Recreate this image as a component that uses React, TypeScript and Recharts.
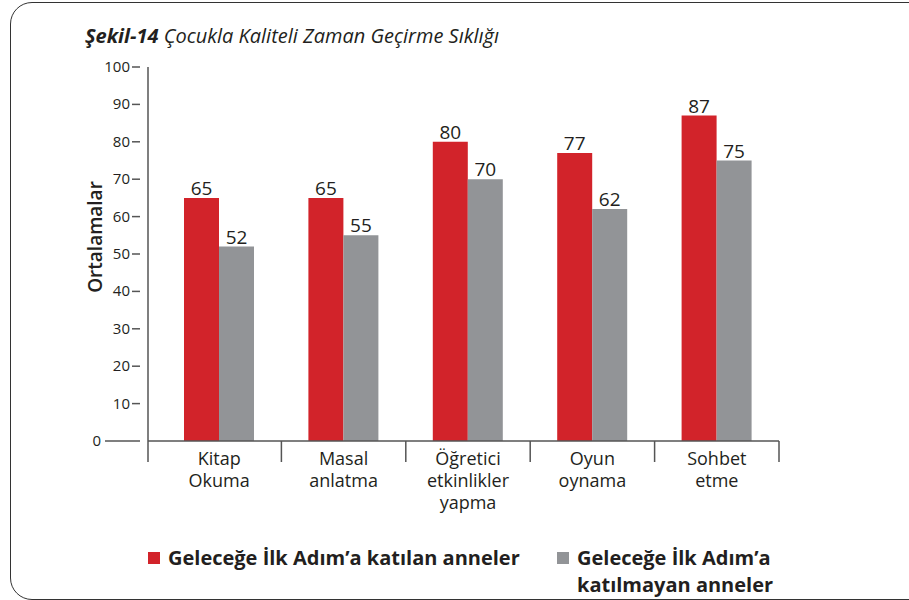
import { BarChart, Bar, XAxis, YAxis, LabelList } from 'recharts';

const categories = ['Kitap\nOkuma', 'Masal\nanlatma', 'Öğretici\netkinlikler\nyapma', 'Oyun\noynama', 'Sohbet\netme'];
const katilan = [65, 65, 80, 77, 87];
const katilmayan = [52, 55, 70, 62, 75];
const yTicks = [0, 10, 20, 30, 40, 50, 60, 70, 80, 90, 100];

const RED = '#d2232a';
const GREY = '#929497';
const INK = '#231f20';
const FONT = '"Open Sans", sans-serif';

const data = categories.map((c, i) => ({ cat: c, a: katilan[i], b: katilmayan[i] }));

// plot box
const W = 909;
const H = 600;
const LEFT = 148;
const RIGHT = 779;
const TOP = 67;
const BOTTOM = 441;
const PAD_L = 9;
const BAND = (RIGHT - LEFT - PAD_L) / categories.length;

function CatTick(props: any) {
  const { x, y, payload, index } = props;
  const lines = String(payload.value).split('\n');
  return (
    <g>
      {index === 0 && <line x1={LEFT} x2={LEFT} y1={BOTTOM} y2={BOTTOM + 21} stroke="#555" strokeWidth={1.5} />}
      <line x1={x + BAND / 2} x2={x + BAND / 2} y1={BOTTOM} y2={BOTTOM + 21} stroke="#555" strokeWidth={1.5} />
      <text x={x} y={y} textAnchor="middle" fontSize={18} fill={INK} fontFamily={FONT}>
        {lines.map((l, i) => (
          <tspan key={i} x={x} dy={i === 0 ? 16 : 22}>{l}</tspan>
        ))}
      </text>
    </g>
  );
}

function ValTick(props: any) {
  const { x, y, payload } = props;
  const zero = payload.value === 0;
  return (
    <g>
      <line x1={zero ? x - 35 : x - 8} x2={x} y1={y} y2={y} stroke="#555" strokeWidth={1.5} />
      <text x={zero ? x - 39 : x - 10} y={y + 5} textAnchor="end" fontSize={15} fill={INK} fontFamily={FONT}>
        {payload.value}
      </text>
    </g>
  );
}

export default function App() {
  return (
    <div style={{ position: 'fixed', left: 0, top: 0, width: W, height: H, overflow: 'hidden', background: '#fff', fontFamily: FONT }}>
      <div style={{ position: 'absolute', left: 10, top: 2, width: 930, height: 596, border: '1.5px solid #333', borderRadius: 22 }} />
      <div style={{ position: 'absolute', left: 85, top: 22, fontSize: 20, fontStyle: 'italic', color: INK, whiteSpace: 'nowrap' }}>
        <span style={{ fontWeight: 700 }}>Şekil-14</span> Çocukla Kaliteli Zaman Geçirme Sıklığı
      </div>
      <div style={{ position: 'absolute', left: 0, top: 0 }}>
        <BarChart
          width={W}
          height={H}
          data={data}
          margin={{ top: TOP, left: LEFT - 60, right: W - RIGHT, bottom: H - BOTTOM - 80 }}
          barGap={0}
        >
          <XAxis
            dataKey="cat"
            height={80}
            interval={0}
            padding={{ left: PAD_L, right: 0 }}
            axisLine={{ stroke: '#555', strokeWidth: 1.5 }}
            tickLine={false}
            tick={(p: any) => <CatTick {...p} />}
          />
          <YAxis
            width={60}
            domain={[0, 100]}
            ticks={yTicks}
            interval={0}
            axisLine={{ stroke: '#555', strokeWidth: 1.5 }}
            tickLine={false}
            tick={(p: any) => <ValTick {...p} />}
          />
          <Bar dataKey="a" fill={RED} barSize={35} isAnimationActive={false}>
            <LabelList dataKey="a" position="top" offset={3} fontSize={19} fill={INK} fontFamily={FONT} />
          </Bar>
          <Bar dataKey="b" fill={GREY} barSize={35} isAnimationActive={false}>
            <LabelList dataKey="b" position="top" offset={3} fontSize={19} fill={INK} fontFamily={FONT} />
          </Bar>
        </BarChart>
      </div>
      <div
        style={{
          position: 'absolute', left: 95, top: 237, transform: 'translate(-50%, -50%) rotate(-90deg)',
          fontSize: 19, fontWeight: 600, color: INK, whiteSpace: 'nowrap',
        }}
      >
        Ortalamalar
      </div>
      <div style={{ position: 'absolute', left: 148, top: 544, display: 'flex', alignItems: 'flex-start', fontSize: 20, fontWeight: 700, color: INK, lineHeight: '27px' }}>
        <span style={{ width: 12, height: 12, background: RED, marginTop: 8, marginRight: 8 }} />
        <span>Geleceğe İlk Adım’a katılan anneler</span>
      </div>
      <div style={{ position: 'absolute', left: 557, top: 544, display: 'flex', alignItems: 'flex-start', fontSize: 20, fontWeight: 700, color: INK, lineHeight: '27px' }}>
        <span style={{ width: 12, height: 12, background: GREY, marginTop: 8, marginRight: 8 }} />
        <span>Geleceğe İlk Adım’a<br />katılmayan anneler</span>
      </div>
    </div>
  );
}
